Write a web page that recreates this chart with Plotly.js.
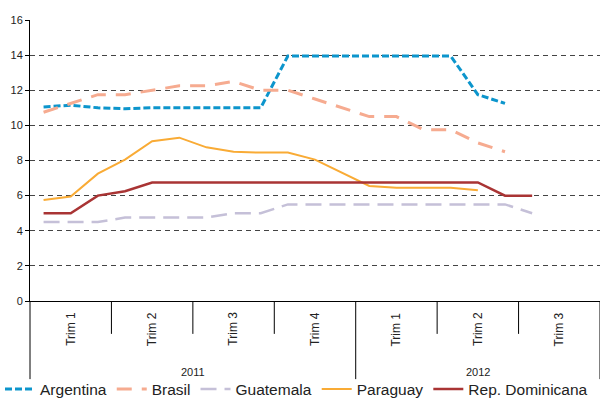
<!DOCTYPE html>
<html>
<head>
<meta charset="utf-8">
<script src="https://cdn.plot.ly/plotly-3.0.1.min.js"></script>
<style>html,body{margin:0;padding:0;background:#fff;}#chart{width:600px;height:400px;}</style>
</head>
<body>
<div id="chart"></div>
<script>
// Month number (1 = Jan 2011 ... 21 = Sep 2012)
var monthNo = [1,2,3,4,5,6,7,8,9,10,11,12,13,14,15,16,17,18,19,20,21];

var argentina = [11.05,11.15,11.0,10.95,11.0,11.0,11.0,11.0,11.0,13.95,13.95,13.95,13.95,13.95,13.95,13.95,11.75,11.25];
var brasil    = [10.75,11.25,11.75,11.75,12.0,12.25,12.25,12.5,12.0,12.0,11.5,11.0,10.5,10.5,9.75,9.75,9.0,8.5];
var guatemala = [4.5,4.5,4.5,4.75,4.75,4.75,4.75,5.0,5.0,5.5,5.5,5.5,5.5,5.5,5.5,5.5,5.5,5.5,5.0];
var paraguay  = [5.75,5.95,7.25,8.05,9.1,9.3,8.75,8.5,8.45,8.45,8.05,7.3,6.55,6.45,6.45,6.45,6.3];
var repDom    = [5.0,5.0,6.0,6.25,6.75,6.75,6.75,6.75,6.75,6.75,6.75,6.75,6.75,6.75,6.75,6.75,6.75,6.0,6.0];

var quarterLabels = ['Trim 1','Trim 2','Trim 3','Trim 4','Trim 1','Trim 2','Trim 3'];
var quarterCenters = [2,5,8,11,14,17,20];
var quarterBounds = [3.5,6.5,9.5,15.5,18.5];
var yearLabels = ['2011','2012'];
var yearCenters = [6.5,17];
var yearBounds = [12.5];

function tr(name, y, color, width, dash) {
  return {
    type: 'scatter', mode: 'lines', name: name,
    x: monthNo.slice(0, y.length), y: y,
    line: {color: color, width: width, dash: dash}
  };
}

var data = [
  tr('Argentina', argentina, '#0c95cc', 3, '7px,3px'),
  tr('Brasil', brasil, '#f6ab90', 3, '15px,10px'),
  tr('Guatemala', guatemala, '#c5c0d8', 2.5, '16px,8px'),
  tr('Paraguay', paraguay, '#f9ab35', 2, 'solid'),
  tr('Rep. Dominicana', repDom, '#a93434', 2.5, 'solid')
];

var annotations = [];
quarterLabels.forEach(function (t, i) {
  annotations.push({text: t, x: quarterCenters[i], xref: 'x', y: -0.1, yref: 'paper',
    xanchor: 'center', yanchor: 'middle', textangle: -90, showarrow: false,
    font: {family: 'Liberation Sans, Arial, sans-serif', size: 12, color: '#222'}});
});
yearLabels.forEach(function (t, i) {
  annotations.push({text: t, x: yearCenters[i], xref: 'x', y: -0.253, yref: 'paper',
    xanchor: 'center', yanchor: 'middle', showarrow: false,
    font: {family: 'Liberation Sans, Arial, sans-serif', size: 11, color: '#222'}});
});

var shapes = [];
quarterBounds.forEach(function (b) {
  shapes.push({type: 'line', xref: 'x', yref: 'paper', x0: b, x1: b, y0: 0, y1: -0.117,
    line: {color: '#000', width: 1}});
});
yearBounds.forEach(function (b) {
  shapes.push({type: 'line', xref: 'x', yref: 'paper', x0: b, x1: b, y0: 0, y1: -0.278,
    line: {color: '#000', width: 1}});
});
[0, 1].forEach(function (d) {
  shapes.push({type: 'line', xref: 'x domain', yref: 'paper', x0: d, x1: d, y0: 0, y1: -0.278,
    line: {color: '#000', width: 1}});
});

var layout = {
  width: 600, height: 400,
  margin: {l: 30, r: 0, t: 20, b: 99, autoexpand: false},
  paper_bgcolor: '#fff', plot_bgcolor: '#fff',
  font: {family: 'Liberation Sans, Arial, sans-serif', color: '#222'},
  showlegend: true,
  legend: {orientation: 'h', x: -0.0526, xanchor: 'left', y: -0.254, yanchor: 'top',
    font: {size: 15.5, color: '#222'}, bgcolor: 'rgba(0,0,0,0)', borderwidth: 0},
  xaxis: {range: [0.5, 21.5], showticklabels: false, ticks: '', showgrid: false,
    zeroline: false, showline: true, linecolor: '#000', linewidth: 1, fixedrange: true},
  yaxis: {range: [0, 16], dtick: 2, tick0: 0, showgrid: true, gridcolor: '#444', gridwidth: 1,
    griddash: '5px,4px', zeroline: false, showline: true, linecolor: '#000', linewidth: 1,
    ticks: 'outside', ticklen: 4, tickcolor: '#000', tickfont: {size: 11, color: '#222'}, fixedrange: true},
  annotations: annotations,
  shapes: shapes
};

Plotly.newPlot('chart', data, layout, {displayModeBar: false, staticPlot: true});
</script>
</body>
</html>
